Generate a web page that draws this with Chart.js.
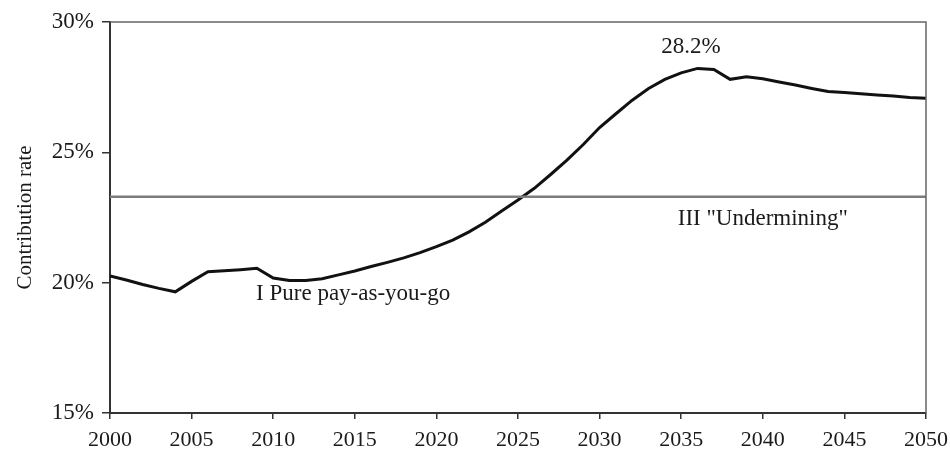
<!DOCTYPE html>
<html>
<head>
<meta charset="utf-8">
<script src="https://cdn.jsdelivr.net/npm/chart.js@4.4.1/dist/chart.umd.min.js"></script>
<style>
  html, body { margin: 0; padding: 0; background: #fff; }
  #wrap { width: 950px; height: 453px; }
</style>
</head>
<body>
<div id="wrap"><canvas id="rateChart"></canvas></div>
<script>
// Data
const years = [];
for (let y = 2000; y <= 2050; y++) years.push(y);

const payAsYouGo = [
    20.26, 20.1, 19.93, 19.78, 19.65, 20.05, 20.42, 20.46, 20.5, 20.55,
    20.18, 20.08, 20.08, 20.15, 20.3, 20.45, 20.62, 20.78, 20.95, 21.15,
    21.38, 21.63, 21.95, 22.32, 22.75, 23.17, 23.62, 24.15, 24.7, 25.3,
    25.95, 26.48, 27.0, 27.45, 27.8, 28.05, 28.22, 28.18, 27.8, 27.9,
    27.82, 27.7, 27.58, 27.45, 27.33, 27.3, 27.25, 27.2, 27.16, 27.1,
    27.07
];
const undermining = years.map(() => 23.3);

const yTicks = [15, 20, 25, 30];
const xTicks = [2000, 2005, 2010, 2015, 2020, 2025, 2030, 2035, 2040, 2045, 2050];

// text labels inside the plot, placed in data coordinates
const notes = [
    { text: '28.2%', x: 2035.6, y: 29.05 },
    { text: 'III "Undermining"', x: 2040, y: 22.45 },
    { text: 'I Pure pay-as-you-go', x: 2014.9, y: 19.55 }
];

const serif = '"Liberation Serif", "DejaVu Serif", serif';

const framePlugin = {
    id: 'frame',
    afterDatasetsDraw(chart) {
        const { ctx, chartArea: a, scales } = chart;
        ctx.save();
        ctx.strokeStyle = '#666';
        ctx.lineWidth = 1.5;
        ctx.beginPath();
        ctx.moveTo(a.left, a.top);
        ctx.lineTo(a.right, a.top);
        ctx.lineTo(a.right, a.bottom);
        ctx.stroke();

        ctx.fillStyle = '#1a1a1a';
        ctx.font = '23px ' + serif;
        ctx.textAlign = 'center';
        ctx.textBaseline = 'middle';
        notes.forEach(n => {
            ctx.fillText(n.text, scales.x.getPixelForValue(n.x), scales.y.getPixelForValue(n.y));
        });
        ctx.restore();
    }
};

const ctx = document.getElementById('rateChart').getContext('2d');
let myChart = new Chart(ctx, {
    type: 'line',
    data: {
        datasets: [{
            label: 'undermining',
            data: years.map((y, i) => ({ x: y, y: undermining[i] })),
            borderColor: '#7c7c7c',
            borderWidth: 2.5,
            pointRadius: 0
        }, {
            label: 'payg',
            data: years.map((y, i) => ({ x: y, y: payAsYouGo[i] })),
            borderColor: '#111',
            borderWidth: 3,
            pointRadius: 0,
            tension: 0
        }]
    },
    options: {
        responsive: true,
        maintainAspectRatio: false,
        animation: false,
        layout: { padding: { top: 22, right: 24, left: 0, bottom: 0 } },
        plugins: { legend: { display: false }, tooltip: { enabled: false } },
        scales: {
            x: {
                type: 'linear',
                min: 2000,
                max: 2050,
                afterBuildTicks: (s) => { s.ticks = xTicks.map(v => ({ value: v })); },
                afterFit: (s) => { s.height = 40; s.paddingLeft = 0; s.paddingRight = 0; },
                ticks: {
                    color: '#1a1a1a',
                    font: { family: serif, size: 22 },
                    padding: 8,
                    maxRotation: 0,
                    callback: v => String(v)
                },
                grid: { drawOnChartArea: false, drawTicks: true, tickLength: 6, color: '#333', lineWidth: 1.5 },
                border: { display: true, color: '#333', width: 2 }
            },
            y: {
                min: 15,
                max: 30,
                afterBuildTicks: (s) => { s.ticks = yTicks.map(v => ({ value: v })); },
                afterFit: (s) => { s.width = 110; s.paddingTop = 0; s.paddingBottom = 0; },
                ticks: {
                    color: '#1a1a1a',
                    font: { family: serif, size: 23 },
                    padding: 8,
                    callback: v => v + '%'
                },
                title: {
                    display: true,
                    text: 'Contribution rate',
                    color: '#1a1a1a',
                    font: { family: serif, size: 21 },
                    padding: { top: 13, bottom: 0 }
                },
                grid: { drawOnChartArea: false, drawTicks: true, tickLength: 8, color: '#333', lineWidth: 1.5 },
                border: { display: true, color: '#333', width: 2 }
            }
        }
    },
    plugins: [framePlugin]
});
</script>
</body>
</html>
